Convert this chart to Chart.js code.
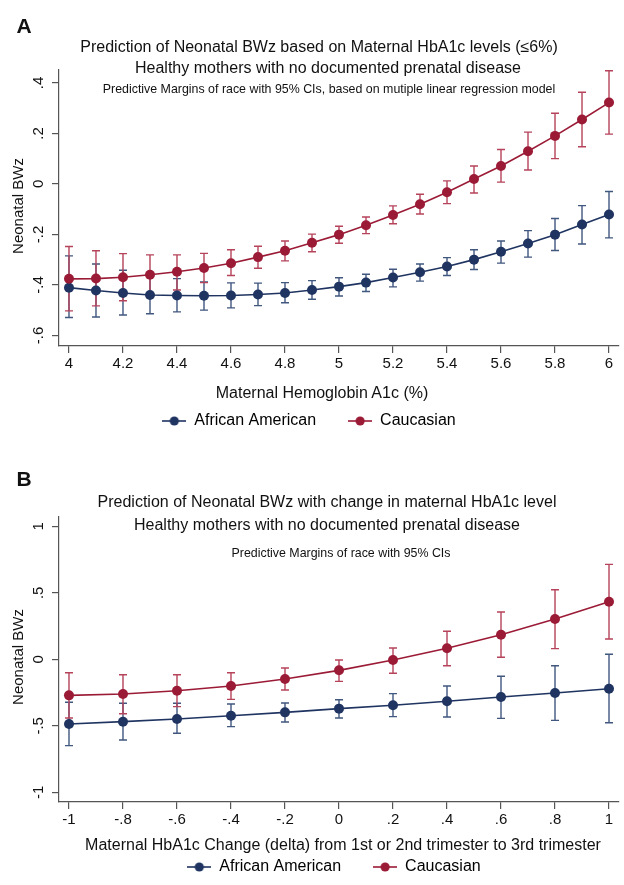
<!DOCTYPE html>
<html>
<head>
<meta charset="utf-8">
<script src="https://cdn.jsdelivr.net/npm/chart.js@4/dist/chart.umd.min.js"></script>
<style>
  html, body { margin: 0; padding: 0; background: #fff; }
  #page { position: relative; width: 624px; height: 885px; overflow: hidden; font-family: "Liberation Sans", Arial, sans-serif; color: #111; }
  .txt { position: absolute; white-space: nowrap; transform: translate(-50%, -50%); line-height: 1; }
  .big { font-size: 16px; }
  .small { font-size: 12.4px; }
  .panel { font-size: 21px; font-weight: bold; }
  .ytitle { font-size: 15px; transform: translate(-50%, -50%) rotate(-90deg); }
  canvas { position: absolute; left: 0; }
</style>
</head>
<body>
<div id="page">
  <canvas id="chartA" width="624" height="440" style="top:0px"></canvas>
  <canvas id="chartB" width="624" height="445" style="top:440px"></canvas>

  <!-- panel A texts -->
  <div class="txt panel" style="left:24px; top:25px">A</div>
  <div class="txt big" style="left:319px; top:47px">Prediction of Neonatal BWz based on Maternal HbA1c levels (≤6%)</div>
  <div class="txt big" style="left:328px; top:68px">Healthy mothers with no documented prenatal disease</div>
  <div class="txt small" style="left:329px; top:89px">Predictive Margins of race with 95% CIs, based on mutiple linear regression model</div>
  <div class="txt ytitle" style="left:17px; top:206px">Neonatal BWz</div>
  <div class="txt big" style="left:322px; top:393px">Maternal Hemoglobin A1c (%)</div>

  <!-- panel B texts -->
  <div class="txt panel" style="left:24px; top:478px">B</div>
  <div class="txt big" style="left:327px; top:502px">Prediction of Neonatal BWz with change in maternal HbA1c level</div>
  <div class="txt big" style="left:327px; top:525px">Healthy mothers with no documented prenatal disease</div>
  <div class="txt small" style="left:341px; top:553px">Predictive Margins of race with 95% CIs</div>
  <div class="txt ytitle" style="left:17px; top:657px">Neonatal BWz</div>
  <div class="txt big" style="left:343px; top:845px">Maternal HbA1c Change (delta) from 1st or 2nd trimester to 3rd trimester</div>
</div>

<script>
// ---- panel A: HbA1c level ----
const hba1c = [4, 4.1, 4.2, 4.3, 4.4, 4.5, 4.6, 4.7, 4.8, 4.9, 5, 5.1, 5.2, 5.3, 5.4, 5.5, 5.6, 5.7, 5.8, 5.9, 6];
const aaA    = [-0.411, -0.422, -0.432, -0.440, -0.442, -0.443, -0.442, -0.438, -0.432, -0.420, -0.407, -0.391, -0.371, -0.350, -0.327, -0.300, -0.269, -0.236, -0.201, -0.161, -0.121];
const aaA_lo = [-0.529, -0.527, -0.519, -0.514, -0.507, -0.500, -0.491, -0.482, -0.471, -0.457, -0.444, -0.426, -0.408, -0.385, -0.363, -0.339, -0.314, -0.290, -0.264, -0.238, -0.214];
const aaA_hi = [-0.285, -0.317, -0.342, -0.362, -0.375, -0.388, -0.392, -0.393, -0.391, -0.383, -0.372, -0.358, -0.338, -0.317, -0.292, -0.261, -0.226, -0.185, -0.137, -0.086, -0.030];
const caA    = [-0.376, -0.375, -0.370, -0.360, -0.348, -0.333, -0.314, -0.290, -0.265, -0.233, -0.201, -0.164, -0.123, -0.081, -0.033, 0.019, 0.071, 0.129, 0.190, 0.255, 0.322];
const caA_lo = [-0.503, -0.483, -0.463, -0.442, -0.420, -0.391, -0.363, -0.334, -0.305, -0.269, -0.235, -0.197, -0.158, -0.119, -0.078, -0.036, 0.007, 0.055, 0.100, 0.147, 0.197];
const caA_hi = [-0.248, -0.265, -0.276, -0.281, -0.281, -0.275, -0.261, -0.247, -0.226, -0.199, -0.168, -0.131, -0.087, -0.041, 0.012, 0.071, 0.136, 0.205, 0.280, 0.363, 0.448];
const xTicksA = [4, 4.2, 4.4, 4.6, 4.8, 5, 5.2, 5.4, 5.6, 5.8, 6];
const xLabelsA = ['4', '4.2', '4.4', '4.6', '4.8', '5', '5.2', '5.4', '5.6', '5.8', '6'];
const yTicksA = [-0.6, -0.4, -0.2, 0, 0.2, 0.4];
const yLabelsA = ['-.6', '-.4', '-.2', '0', '.2', '.4'];

// ---- panel B: HbA1c change ----
const delta = [-1, -0.8, -0.6, -0.4, -0.2, 0, 0.2, 0.4, 0.6, 0.8, 1];
const aaB    = [-0.486, -0.469, -0.449, -0.424, -0.399, -0.371, -0.346, -0.316, -0.283, -0.253, -0.221];
const aaB_lo = [-0.649, -0.607, -0.556, -0.506, -0.471, -0.441, -0.431, -0.434, -0.444, -0.459, -0.477];
const aaB_hi = [-0.323, -0.331, -0.331, -0.336, -0.329, -0.304, -0.258, -0.201, -0.128, -0.048, 0.038];
const caB    = [-0.271, -0.261, -0.236, -0.201, -0.148, -0.083, -0.005, 0.083, 0.185, 0.303, 0.433];
const caB_lo = [-0.441, -0.409, -0.356, -0.301, -0.231, -0.166, -0.105, -0.048, 0.015, 0.080, 0.153];
const caB_hi = [-0.101, -0.116, -0.116, -0.101, -0.065, -0.005, 0.085, 0.211, 0.356, 0.523, 0.714];
const xTicksB = [-1, -0.8, -0.6, -0.4, -0.2, 0, 0.2, 0.4, 0.6, 0.8, 1];
const xLabelsB = ['-1', '-.8', '-.6', '-.4', '-.2', '0', '.2', '.4', '.6', '.8', '1'];
const yTicksB = [-1, -0.5, 0, 0.5, 1];
const yLabelsB = ['-1', '-.5', '0', '.5', '1'];

const NAVY = '#1f3461', NAVY_BAR = '#40577f';
const RED = '#9b1b36', RED_BAR = '#b5435a';
const AXIS = '#555';
const FONT = '"Liberation Sans", Arial, sans-serif';

// little line-with-dot symbol for the legend
function legendSymbol(color) {
  const c = document.createElement('canvas');
  c.width = 24; c.height = 12;
  const g = c.getContext('2d');
  g.strokeStyle = color; g.lineWidth = 1.6;
  g.beginPath(); g.moveTo(0, 6); g.lineTo(24, 6); g.stroke();
  g.fillStyle = color;
  g.beginPath(); g.arc(12, 6, 4.6, 0, Math.PI * 2); g.fill();
  return c;
}

// draws the 95% CI caps using the chart scales
const errorBars = {
  id: 'errorBars',
  beforeDatasetsDraw(chart) {
    const { ctx, scales: { x, y } } = chart;
    ctx.save();
    ctx.lineWidth = 1.4;
    chart.data.datasets.forEach(ds => {
      ctx.strokeStyle = ds.barColor;
      ds.data.forEach((pt, i) => {
        const px = x.getPixelForValue(pt.x);
        const top = y.getPixelForValue(ds.hi[i]);
        const bot = y.getPixelForValue(ds.lo[i]);
        ctx.beginPath();
        ctx.moveTo(px, top); ctx.lineTo(px, bot);
        ctx.moveTo(px - 4, top); ctx.lineTo(px + 4, top);
        ctx.moveTo(px - 4, bot); ctx.lineTo(px + 4, bot);
        ctx.stroke();
      });
    });
    ctx.restore();
  }
};

// nudges the bottom legend sideways (the original is not centred on the canvas)
const legendShift = {
  id: 'legendShift',
  afterLayout(chart, args, opts) {
    const dx = opts.dx || 0;
    chart.legend.left += dx;
    chart.legend.right += dx;
  }
};

function series(label, xs, ys, lo, hi, color, barColor, order) {
  return {
    label: label,
    data: xs.map((v, i) => ({ x: v, y: ys[i] })),
    lo: lo, hi: hi,
    borderColor: color,
    backgroundColor: color,
    barColor: barColor,
    borderWidth: 1.6,
    pointRadius: 5,
    pointBorderWidth: 0,
    pointBackgroundColor: color,
    tension: 0,
    order: order
  };
}

function makeChart(id, o) {
  return new Chart(document.getElementById(id), {
    type: 'line',
    data: { datasets: o.datasets },
    plugins: [errorBars, legendShift],
    options: {
      responsive: false,
      animation: false,
      events: [],
      layout: { padding: o.padding },
      plugins: {
        tooltip: { enabled: false },
        title: { display: false },
        legendShift: { dx: o.legendDx },
        legend: {
          position: 'bottom',
          labels: {
            usePointStyle: true,
            pointStyleWidth: 24,
            padding: 32,
            color: '#111',
            font: { family: FONT, size: 16 },
            generateLabels: (chart) => chart.data.datasets.map((ds, i) => ({
              text: ds.label,
              pointStyle: legendSymbol(ds.borderColor),
              fillStyle: ds.borderColor,
              strokeStyle: ds.borderColor,
              lineWidth: 0,
              hidden: false,
              datasetIndex: i
            }))
          }
        }
      },
      scales: {
        x: {
          type: 'linear',
          min: o.xMin, max: o.xMax,
          afterFit: (s) => { s.height = o.xHeight; },
          afterBuildTicks: (s) => { s.ticks = o.xTicks.map(v => ({ value: v })); },
          grid: { drawOnChartArea: false, drawTicks: true, tickLength: 7, color: AXIS, lineWidth: 1.2 },
          border: { display: true, color: AXIS, width: 1.2 },
          ticks: {
            padding: 2, color: '#111', maxRotation: 0,
            font: { family: FONT, size: 15 },
            callback: (v, i) => o.xLabels[i]
          }
        },
        y: {
          type: 'linear',
          min: o.yMin, max: o.yMax,
          afterFit: (s) => { s.width = o.yWidth; },
          afterBuildTicks: (s) => { s.ticks = o.yTicks.map(v => ({ value: v })); },
          grid: { drawOnChartArea: false, drawTicks: true, tickLength: 7, color: AXIS, lineWidth: 1.2 },
          border: { display: true, color: AXIS, width: 1.2 },
          ticks: {
            padding: 4, color: '#111',
            minRotation: 90, maxRotation: 90,
            crossAlign: 'center',
            font: { family: FONT, size: 15 },
            callback: (v, i) => o.yLabels[i]
          }
        }
      }
    }
  });
}

makeChart('chartA', {
  datasets: [
    series('African American', hba1c, aaA, aaA_lo, aaA_hi, NAVY, NAVY_BAR, 1),
    series('Caucasian', hba1c, caA, caA_lo, caA_hi, RED, RED_BAR, 0)
  ],
  padding: { left: 0, right: 0, top: 70, bottom: 1 },
  legendDx: -3,
  xMin: 3.963, xMax: 6.037, xHeight: 35, xTicks: xTicksA, xLabels: xLabelsA,
  yMin: -0.642, yMax: 0.451, yWidth: 59, yTicks: yTicksA, yLabels: yLabelsA
});

makeChart('chartB', {
  datasets: [
    series('African American', delta, aaB, aaB_lo, aaB_hi, NAVY, NAVY_BAR, 1),
    series('Caucasian', delta, caB, caB_lo, caB_hi, RED, RED_BAR, 0)
  ],
  padding: { left: 0, right: 0, top: 77, bottom: 0 },
  legendDx: 22,
  xMin: -1.037, xMax: 1.037, xHeight: 25, xTicks: xTicksB, xLabels: xLabelsB,
  yMin: -1.073, yMax: 1.070, yWidth: 59, yTicks: yTicksB, yLabels: yLabelsB
});
</script>
</body>
</html>
